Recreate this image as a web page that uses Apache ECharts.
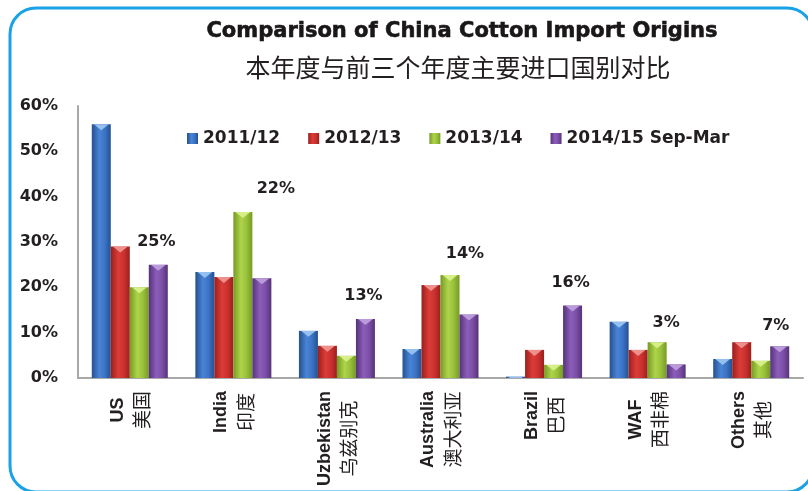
<!DOCTYPE html>
<html>
<head>
<meta charset="utf-8">
<style>
  html, body { margin: 0; padding: 0; background: #ffffff; }
  #chart { width: 808px; height: 491px; }
</style>
<script src="https://cdn.jsdelivr.net/npm/echarts@6/dist/echarts.min.js"></script>
</head>
<body>
<div id="chart"></div>
<script>
// Cotton import shares by origin (% of total imports)
const categoriesEn = ['US', 'India', 'Uzbekistan', 'Australia', 'Brazil', 'WAF', 'Others'];
const categoriesZh = ['美国', '印度', '乌兹别克', '澳大利亚', '巴西', '西非棉', '其他'];
const seasons = ['2011/12', '2012/13', '2013/14', '2014/15 Sep-Mar'];

const share2011 = [56, 23.4, 10.4, 6.4, 0.3, 12.4, 4.2];
const share2012 = [29, 22.3, 7.1, 20.5, 6.2, 6.2, 7.9];
const share2013 = [20, 36.6, 4.9, 22.7, 2.9, 7.9, 3.8];
const share2014 = [25, 22, 13, 14, 16, 3, 7];

const yTicks = { min: 0, max: 60, interval: 10 };

// nudges for the current-season value labels [dx, dy]
const labelNudge = [[-2, -10], [14, -76], [-2, -10], [-4, -48], [-2, -10], [-10, -29], [-4, -7]];

const textColor = '#231f20';

function barGradient(dark, light, mid) {
  return new echarts.graphic.LinearGradient(0, 0, 1, 0, [
    { offset: 0, color: dark },
    { offset: 0.4, color: light },
    { offset: 0.7, color: mid },
    { offset: 1, color: dark }
  ]);
}

const palette = [
  barGradient('#24518f', '#4a84d6', '#3b72c4'),
  barGradient('#9a1f1c', '#dc3c38', '#c9312e'),
  barGradient('#769a24', '#aed44a', '#98c03a'),
  barGradient('#553378', '#8c5dba', '#7b4fa6')
];
// light bevel drawn on top of each bar
const capColors = ['#9cc8f2', '#f09a96', '#dcf28e', '#c0a2e0'];

const seriesValues = [share2011, share2012, share2013, share2014];

const barSeries = seriesValues.map((vals, i) => {
  const s = {
    name: seasons[i],
    type: 'bar',
    barWidth: 19,
    barGap: '0%',
    itemStyle: { color: palette[i] },
    data: vals.slice()
  };
  if (i === 3) {
    s.data = vals.map((v, k) => ({
      value: v,
      label: { offset: labelNudge[k] }
    }));
    s.label = {
      show: true,
      position: 'top',
      distance: 5,
      formatter: p => Math.round(p.value) + '%',
      fontFamily: 'DejaVu Sans',
      fontWeight: 'bold',
      fontSize: 16,
      lineHeight: 16,
      color: textColor
    };
  }
  return s;
});

const capSeries = seriesValues.map((vals, i) => ({
  name: seasons[i],
  type: 'pictorialBar',
  barWidth: 19,
  barGap: '0%',
  symbol: 'path://M0,0 L10,0 L5,4 Z',
  symbolSize: [15, 6],
  symbolPosition: 'end',
  symbolClip: true,
  itemStyle: { color: capColors[i], opacity: 0.9 },
  silent: true,
  z: 3,
  data: vals.slice()
}));

const chart = echarts.init(document.getElementById('chart'), null, { renderer: 'canvas' });

chart.setOption({
  animation: false,
  backgroundColor: '#ffffff',
  graphic: [
    {
      type: 'rect',
      shape: { x: 10, y: 8, width: 803, height: 484, r: 26 },
      style: { fill: 'none', stroke: '#1aa2e6', lineWidth: 3 },
      z: 100
    },
    {
      type: 'text',
      x: 462, y: 32,
      style: {
        text: 'Comparison of China Cotton Import Origins',
        align: 'center', verticalAlign: 'middle',
        font: 'bold 21px "DejaVu Sans"',
        fill: '#1a1718',
        stroke: '#1a1718',
        lineWidth: 0.6
      }
    },
    {
      type: 'text',
      x: 458, y: 67,
      style: {
        text: '本年度与前三个年度主要进口国别对比',
        align: 'center', verticalAlign: 'middle',
        font: '25px "Noto Sans CJK SC"',
        fill: textColor
      }
    }
  ],
  legend: {
    data: seasons,
    left: 182,
    top: 125,
    itemWidth: 11,
    itemHeight: 11,
    itemGap: 28,
    icon: 'rect',
    textStyle: {
      fontFamily: 'DejaVu Sans',
      fontWeight: 'bold',
      fontSize: 17,
      color: textColor
    }
  },
  grid: { left: 78, right: 5, top: 106, bottom: 113, containLabel: false },
  xAxis: {
    type: 'category',
    data: categoriesEn,
    axisLine: { show: true, lineStyle: { color: '#a8a8a8', width: 2 } },
    axisTick: { show: false },
    axisLabel: {
      interval: 0,
      rotate: 90,
      margin: 13,
      formatter: (val, idx) => '{en|' + val + '}\n{zh|' + categoriesZh[idx] + '}',
      rich: {
        en: {
          fontFamily: 'Liberation Sans',
          fontWeight: 'bold',
          fontSize: 18,
          lineHeight: 24,
          color: textColor,
          align: 'center'
        },
        zh: {
          fontFamily: 'Noto Sans CJK SC',
          fontSize: 19,
          lineHeight: 24,
          color: textColor,
          align: 'center'
        }
      }
    }
  },
  yAxis: {
    type: 'value',
    min: yTicks.min,
    max: yTicks.max,
    interval: yTicks.interval,
    splitLine: { show: false },
    axisTick: { show: false },
    axisLine: { show: true, lineStyle: { color: '#a8a8a8', width: 2 } },
    axisLabel: {
      margin: 20,
      formatter: '{value}%',
      fontFamily: 'DejaVu Sans',
      fontWeight: 'bold',
      fontSize: 16,
      color: textColor
    }
  },
  series: barSeries.concat(capSeries)
});
</script>
</body>
</html>
